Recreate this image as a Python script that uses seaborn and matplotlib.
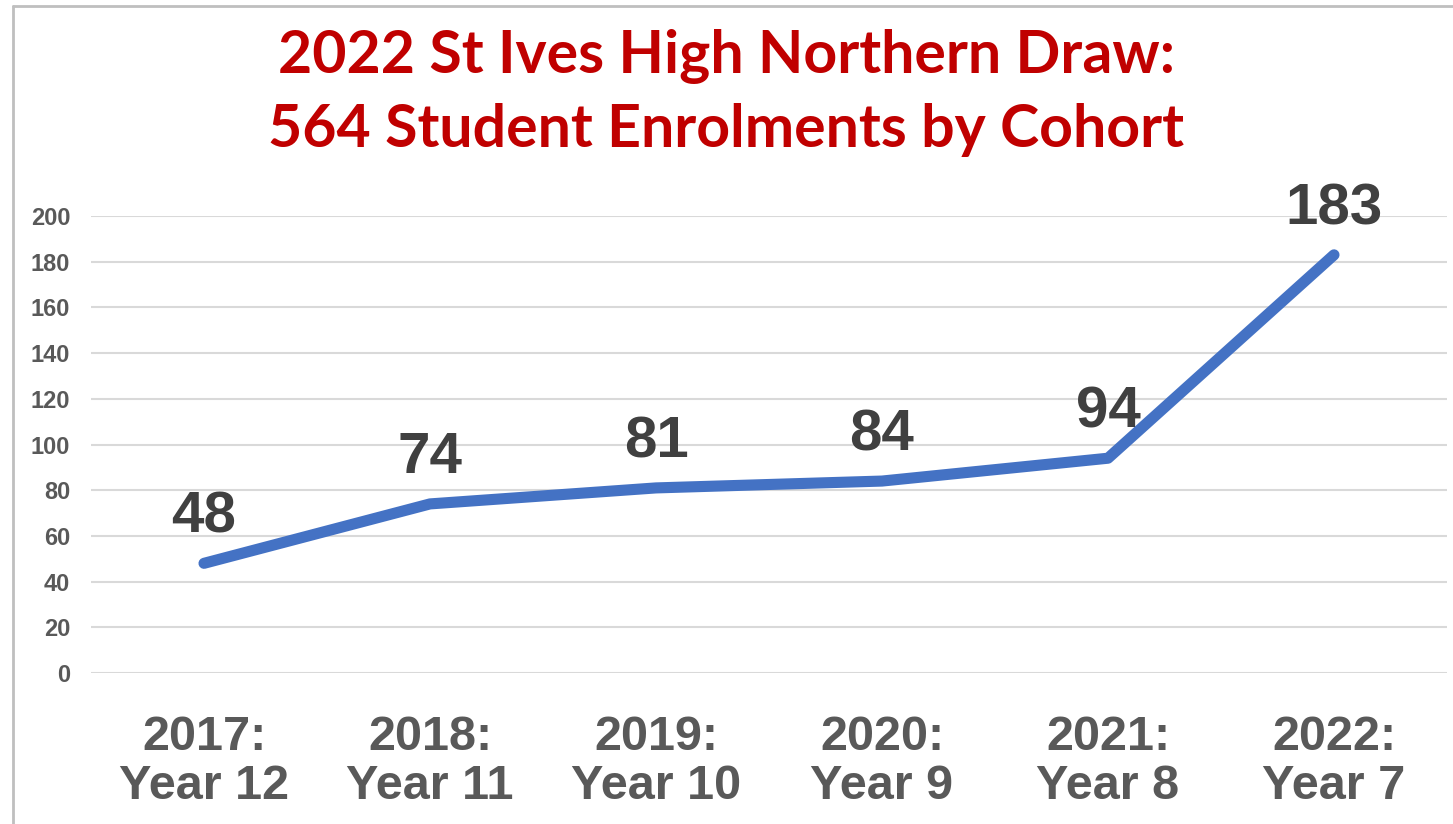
import numpy as np
import pandas as pd
import matplotlib
matplotlib.use('Agg')
import matplotlib.pyplot as plt
from matplotlib.lines import Line2D
import seaborn as sns

title_lines = ['2022 St Ives High Northern Draw:', '564 Student Enrolments by Cohort']
cohorts = ['2017:\nYear 12', '2018:\nYear 11', '2019:\nYear 10',
           '2020:\nYear 9', '2021:\nYear 8', '2022:\nYear 7']
enrolments = [48, 74, 81, 84, 94, 183]
y_ticks = [0, 20, 40, 60, 80, 100, 120, 140, 160, 180, 200]

df = pd.DataFrame({'cohort': cohorts, 'enrolments': enrolments})

sns.set_theme(style='white')
plt.rcParams['font.family'] = ['Liberation Sans', 'DejaVu Sans']

W, H = 1453, 824
fig = plt.figure(figsize=(W / 100, H / 100), dpi=100)
ax = fig.add_axes([91 / W, (H - 673) / H, (1447 - 91) / W, (673 - 216) / H])

sns.lineplot(data=df, x='cohort', y='enrolments', ax=ax, color='#4472C4',
             linewidth=8, sort=False)
for ln in ax.get_lines():
    ln.set_solid_capstyle('round')
    ln.set_solid_joinstyle('round')

for i, v in enumerate(enrolments):
    ax.annotate(str(v), (i, v), xytext=(0, 33), textcoords='offset points',
                ha='center', va='center', fontsize=42, fontweight='bold',
                color='#404040', annotation_clip=False)

ax.set_xlim(-0.5, 5.5)
ax.set_ylim(0, 200)
ax.set_yticks(y_ticks)
ax.yaxis.grid(True, color='#D9D9D9', linewidth=1.5)
ax.set_axisbelow(True)
for s in ax.spines.values():
    s.set_visible(False)
ax.set_xlabel('')
ax.set_ylabel('')
ax.tick_params(axis='y', length=0, pad=15, labelsize=17, labelcolor='#595959')
ax.tick_params(axis='x', length=0, pad=30, labelsize=35, labelcolor='#595959')
for lab in ax.get_yticklabels():
    lab.set_fontweight('bold')
for lab in ax.get_xticklabels():
    lab.set_fontweight('bold')
    lab.set_linespacing(1.12)

for line, yc in zip(title_lines, [57, 130]):
    fig.text(0.5, 1 - yc / H, line, ha='center', va='center', fontsize=42.5,
             fontweight='bold', color='#C00000', family=['Lato', 'DejaVu Sans'])

# chart frame (top and left edges visible)
fig.add_artist(Line2D([13 / W, 1], [1 - 6 / H, 1 - 6 / H], color='#BFBFBF', linewidth=2))
fig.add_artist(Line2D([13 / W, 13 / W], [0, 1 - 6 / H], color='#BFBFBF', linewidth=2))

fig.savefig('out.png', dpi=100)
